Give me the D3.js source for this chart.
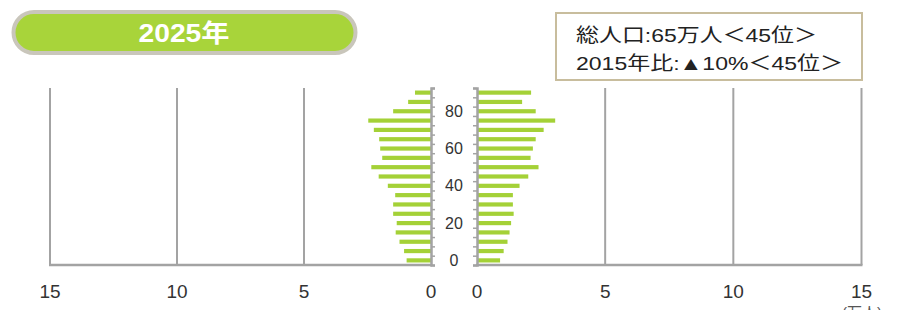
<!DOCTYPE html>
<html><head><meta charset="utf-8">
<script src="https://cdn.jsdelivr.net/npm/d3@7"></script>
<style>
html,body{margin:0;padding:0;background:#fff;}
svg{display:block;font-family:Arial,"Liberation Sans","Noto Sans CJK JP",sans-serif;}
</style></head>
<body>
<svg id="chart" width="897" height="310"></svg>
<script>
const ageGroups = ["0-4","5-9","10-14","15-19","20-24","25-29","30-34","35-39","40-44","45-49","50-54","55-59","60-64","65-69","70-74","75-79","80-84","85-89","90+"];
const male   = [0.96,1.06,1.24,1.39,1.35,1.49,1.49,1.41,1.70,2.06,2.35,1.92,2.00,2.04,2.25,2.47,1.49,0.90,0.63];
const female = [0.90,1.04,1.19,1.27,1.33,1.43,1.40,1.40,1.66,2.00,2.40,2.09,2.18,2.29,2.60,3.05,2.29,1.76,2.11];
const xTickValues = [0,5,10,15];
const ageLabels = [{group:"0-4",label:"0"},{group:"20-24",label:"20"},{group:"40-44",label:"40"},{group:"60-64",label:"60"},{group:"80-84",label:"80"}];
const yearTitle = "2025年";
const infoLines = ["総人口:65万人＜45位＞","2015年比:▲10%＜45位＞"];
const unitLabel = "(万人)";

(function(){
const svg = d3.select("#chart");
const plotTop = 88, plotBottom = 265;
const barColor = "#a4d137";
const lineColor = "#a3a3a3";

const xL = d3.scaleLinear().domain([0,15]).range([431,50]);
const xR = d3.scaleLinear().domain([0,15]).range([477,861.5]);
const yB = d3.scaleBand().domain(ageGroups).range([plotBottom, plotTop]).paddingInner(0.55).paddingOuter(0.27);
const yLin = d3.scaleLinear().domain([0,95]).range([plotBottom, plotTop]);

function grid(x, vals){
  svg.append("g").selectAll("line").data(vals).join("line")
    .attr("x1", d=>x(d)).attr("x2", d=>x(d))
    .attr("y1", plotTop).attr("y2", plotBottom)
    .attr("stroke", lineColor).attr("stroke-width", 2);
}
grid(xL, [5,10,15]);
grid(xR, [5,10,15]);

svg.append("g").selectAll("rect").data(ageGroups).join("rect")
  .attr("x", (d,i)=>xL(male[i])).attr("width", (d,i)=>xL(0)-xL(male[i]))
  .attr("y", d=>yB(d)).attr("height", yB.bandwidth())
  .attr("fill", barColor);
svg.append("g").selectAll("rect").data(ageGroups).join("rect")
  .attr("x", xR(0)).attr("width", (d,i)=>xR(female[i])-xR(0))
  .attr("y", d=>yB(d)).attr("height", yB.bandwidth())
  .attr("fill", barColor);

svg.append("line").attr("x1", xL(15)-1).attr("x2", xL(0)+1).attr("y1", plotBottom).attr("y2", plotBottom)
  .attr("stroke", lineColor).attr("stroke-width", 2.5);
svg.append("line").attr("x1", xR(0)-1).attr("x2", xR(15)+1).attr("y1", plotBottom).attr("y2", plotBottom)
  .attr("stroke", lineColor).attr("stroke-width", 2.5);

const axL = svg.append("g").attr("transform", `translate(${xL(0)},0)`)
  .call(d3.axisRight(yLin).tickValues(d3.range(0,96,5)).tickSize(4).tickSizeOuter(4).tickFormat(""));
const axR = svg.append("g").attr("transform", `translate(${xR(0)},0)`)
  .call(d3.axisLeft(yLin).tickValues(d3.range(0,96,5)).tickSize(4).tickSizeOuter(4).tickFormat(""));
[axL, axR].forEach(a=>{
  a.select(".domain").attr("stroke", lineColor).attr("stroke-width", 2.5);
  a.selectAll(".tick line").attr("stroke", lineColor).attr("stroke-width", 1.5);
});

svg.append("g").selectAll("text").data(ageLabels).join("text")
  .attr("x", (xL(0)+xR(0))/2).attr("y", d=>yB(d.group)+yB.bandwidth()/2)
  .attr("text-anchor","middle").attr("dominant-baseline","central")
  .attr("font-size", 16).attr("fill", "#333").text(d=>d.label);

svg.append("g").selectAll("text").data(xTickValues).join("text")
  .attr("x", d=>xL(d)).attr("y", 298).attr("text-anchor","middle")
  .attr("font-size", 19).attr("fill","#333").text(d=>d);
svg.append("g").selectAll("text").data(xTickValues).join("text")
  .attr("x", d=>xR(d)).attr("y", 298).attr("text-anchor","middle")
  .attr("font-size", 19).attr("fill","#333").text(d=>d);
svg.append("text").attr("x", 862).attr("y", 318).attr("text-anchor","middle")
  .attr("font-size", 15).attr("fill","#555").text(unitLabel);

svg.append("rect").attr("x", 13.5).attr("y", 12).attr("width", 342).attr("height", 41).attr("rx", 20.5)
  .attr("fill", "#a8d43a").attr("stroke", "#c9c6bb").attr("stroke-width", 4);
svg.append("text").attr("x", 184).attr("y", 42).attr("text-anchor","middle")
  .attr("font-size", 25).attr("font-weight","bold").attr("fill","#fff")
  .attr("textLength", 91).attr("lengthAdjust","spacingAndGlyphs").text(yearTitle);

svg.append("rect").attr("x", 556).attr("y", 13).attr("width", 306).attr("height", 67)
  .attr("fill","#fff").attr("stroke","#c8bd9d").attr("stroke-width", 2);
svg.append("g").selectAll("text").data(infoLines).join("text")
  .attr("x", 576).attr("y", (d,i)=>i===0?42:70)
  .attr("font-size", 19).attr("fill","#222")
  .attr("textLength", (d,i)=>i===0?241:267).attr("lengthAdjust","spacingAndGlyphs")
  .text(d=>d);
})();
</script>
</body></html>
